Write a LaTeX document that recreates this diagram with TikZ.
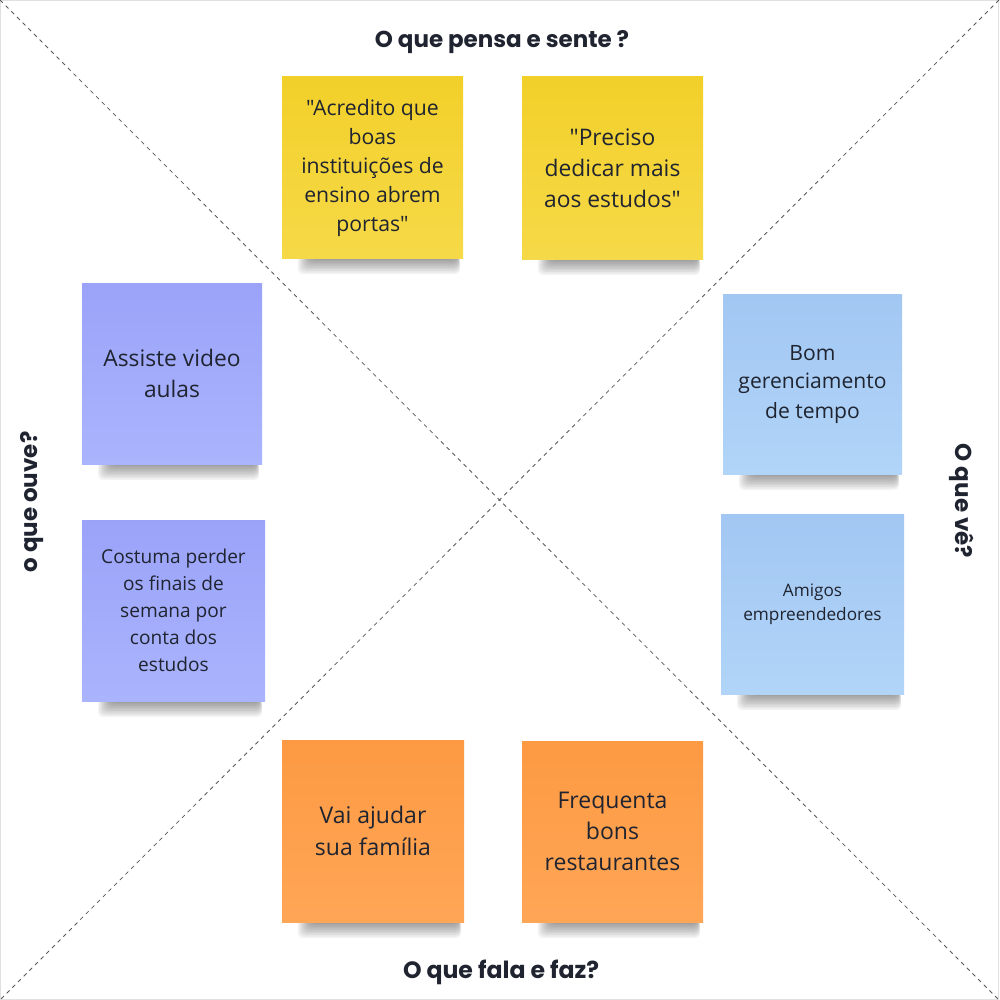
\documentclass[tikz,border=0pt]{standalone}
\usepackage{fontspec}
\setmainfont{Open Sans}[Ligatures=TeXOff]
\newfontfamily\headfont{Poppins}[UprightFont=* Bold]
\usetikzlibrary{calc}
\pgfdeclarelayer{bg}
\pgfsetlayers{bg,main}
\definecolor{txt}{HTML}{1F2430}
\definecolor{yelT}{HTML}{F2D02A}
\definecolor{yelB}{HTML}{F6D948}
\definecolor{purT}{HTML}{9AA3F8}
\definecolor{purB}{HTML}{AAB4FD}
\definecolor{bluT}{HTML}{A2C7F2}
\definecolor{bluB}{HTML}{B1D4F8}
\definecolor{oraT}{HTML}{FD9A43}
\definecolor{oraB}{HTML}{FFA656}
\newcommand\fs[2]{\fontsize{#1}{#2}\selectfont}
\tikzset{
  note/.style={inner sep=0pt, align=center, text=txt},
  yel/.style={note, top color=yelT, bottom color=yelB},
  pur/.style={note, top color=purT, bottom color=purB},
  blu/.style={note, top color=bluT, bottom color=bluB},
  ora/.style={note, top color=oraT, bottom color=oraB},
  head/.style={font=\headfont\fs{23}{27}, text=txt, inner sep=0pt},
  diag/.style={dash pattern=on 4pt off 4pt, line width=0.8pt, color=black!65},
}
\newcommand\nshadow[1]{%
  \foreach \i in {1,...,10}{%
    \fill[black, opacity=0.045, rounded corners=5pt]
      ([xshift=30pt-1.4*\i pt, yshift=3pt]#1.south west) rectangle
      ([xshift=-6pt+0.3*\i pt, yshift=-1.6*\i pt]#1.south east);
  }%
}
\begin{document}
\begin{tikzpicture}[x=1pt,y=-1pt]
\useasboundingbox (0,0) rectangle (999,1000);

\coordinate (tl) at (0,0);
\coordinate (tr) at (999,0);
\coordinate (bl) at (0,1000);
\coordinate (br) at (999,1000);

% notes
\node[yel, minimum width=181pt, minimum height=181pt, font=\fs{21.2}{29}] (y1) at (372.5,167.5)
  {"Acredito que\\boas\\instituições de\\ensino abrem\\portas"};
\node[yel, minimum width=181pt, minimum height=182pt, font=\fs{22.8}{31}] (y2) at (612.5,168)
  {"Preciso\\dedicar mais\\aos estudos"};
\node[pur, minimum width=180pt, minimum height=181pt, font=\fs{22.8}{31}] (p1) at (172,373.5)
  {Assiste video\\aulas};
\node[pur, minimum width=183pt, minimum height=181pt, font=\fs{19.1}{27}] (p2) at (173.5,610.5)
  {Costuma perder\\os finais de\\semana por\\conta dos\\estudos};
\node[blu, minimum width=179pt, minimum height=180pt, font=\fs{21.1}{29}] (b1) at (812.5,384)
  {Bom\\gerenciamento\\de tempo};
\node[blu, minimum width=183pt, minimum height=180pt, font=\fs{17.2}{24}] (b2) at (812.5,604)
  {Amigos\\empreendedores};
\node[ora, minimum width=182pt, minimum height=182pt, font=\fs{23}{32}] (o1) at (373,831)
  {Vai ajudar\\sua família};
\node[ora, minimum width=181pt, minimum height=181pt, font=\fs{23}{31}] (o2) at (612.5,831.5)
  {Frequenta\\bons\\restaurantes};

% headings
\node[head] (h1) at (502,42) {O que pensa e sente ?};
\node[head, font=\headfont\fs{23.6}{27}] (h2) at (501,972) {O que fala e faz?};
\node[head, rotate=90] (h3) at (32,502) {o que ouve?};
\node[head, rotate=-90] (h4) at (962,501) {O que vê?};

\begin{pgfonlayer}{bg}
  \fill[white] (tl) rectangle (br);
  \draw[black!12, line width=1pt] (0.5,0.5) rectangle (998.5,999.5);
  \draw[diag] (tl) -- (br);
  \draw[diag] (tr) -- (bl);
  \nshadow{y1}\nshadow{y2}\nshadow{p1}\nshadow{p2}
  \nshadow{b1}\nshadow{b2}\nshadow{o1}\nshadow{o2}
\end{pgfonlayer}
\end{tikzpicture}
\end{document}
